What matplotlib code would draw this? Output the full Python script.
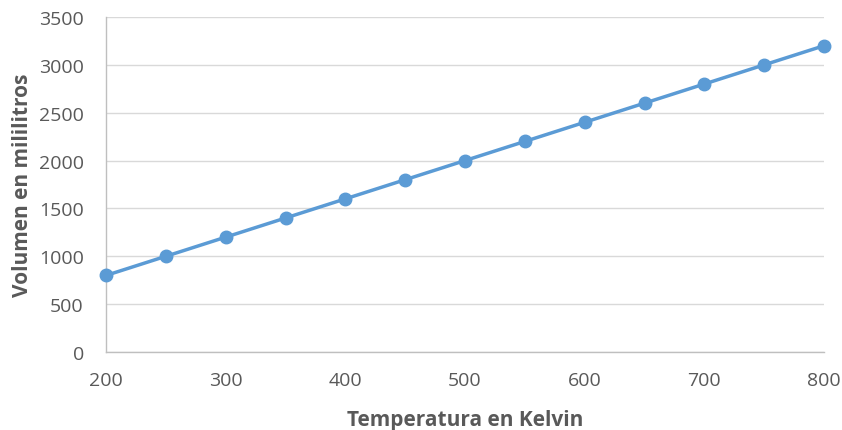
import matplotlib
matplotlib.use("Agg")
import matplotlib.pyplot as plt

temperature = [200, 250, 300, 350, 400, 450, 500, 550, 600, 650, 700, 750, 800]
volume = [800, 1000, 1200, 1400, 1600, 1800, 2000, 2200, 2400, 2600, 2800, 3000, 3200]
x_ticks = [200, 300, 400, 500, 600, 700, 800]
y_ticks = [0, 500, 1000, 1500, 2000, 2500, 3000, 3500]

plt.rcParams['font.family'] = ['Open Sans', 'DejaVu Sans']
fig = plt.figure(figsize=(8.42, 4.31), dpi=100)
ax = fig.add_axes([106/842, 1-353/431, (824-106)/842, (353-18)/431])

ax.plot(temperature, volume, color='#5B9BD5', linewidth=2.5, marker='o',
        markersize=9, markerfacecolor='#5B9BD5', markeredgecolor='#5B9BD5', clip_on=False, zorder=3)

ax.set_xlim(200, 800)
ax.set_ylim(0, 3500)
ax.set_xticks(x_ticks)
ax.set_yticks(y_ticks)
ax.grid(axis='y', color='#D9D9D9', linewidth=1)
ax.set_axisbelow(True)
for s in ['top', 'right']:
    ax.spines[s].set_visible(False)
for s in ['left', 'bottom']:
    ax.spines[s].set_color('#BFBFBF')
    ax.spines[s].set_linewidth(1)
ax.tick_params(axis='both', length=0, labelsize=14, labelcolor='#595959')
ax.tick_params(axis='x', pad=14)
ax.tick_params(axis='y', pad=16)
ax.set_xlabel('Temperatura en Kelvin', fontsize=15, fontweight='bold', color='#595959', labelpad=14)
ax.set_ylabel('Volumen en mililitros', fontsize=15, fontweight='bold', color='#595959', labelpad=4)

fig.savefig('out.png', dpi=100)
